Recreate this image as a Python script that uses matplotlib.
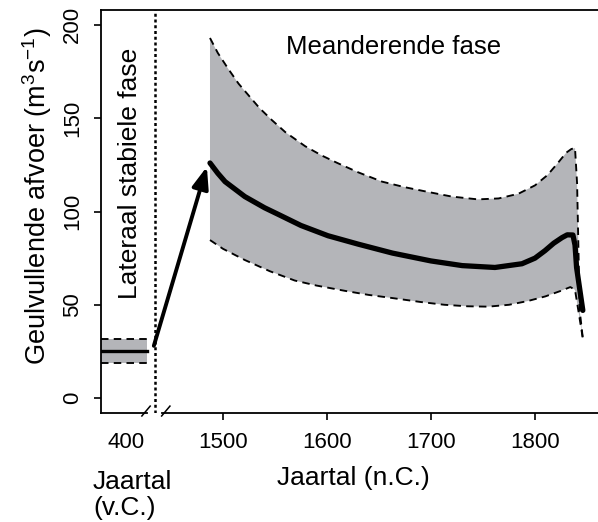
import matplotlib
matplotlib.use('Agg')
import matplotlib.pyplot as plt

plt.rcParams['font.family'] = ['Liberation Sans', 'DejaVu Sans']
plt.rcParams['mathtext.fontset'] = 'custom'
plt.rcParams['mathtext.rm'] = 'Liberation Sans'

# Lateraal stabiele fase (v.C.), getekend links van de asbreuk
bc_pos = [1383, 1427]
bc_mean = 25.4
bc_upper = 31.6
bc_lower = 18.9

# Meanderende fase (n.C.)
up_years = [1487.5, 1495, 1505, 1515, 1525, 1535, 1547, 1560, 1579, 1595, 1610, 1630, 1653,
            1675, 1697, 1720, 1745, 1765, 1784, 1800, 1812, 1822, 1830, 1835, 1838.5,
            1840.5, 1843, 1846]
up_vals = [193, 185, 176.5, 168.5, 162, 155.5, 149, 142.5, 135, 130, 126, 121, 116,
           113, 110.5, 108, 106.5, 107, 109.5, 114, 119.5, 126, 131.5, 133.5, 134,
           115, 47, 32]
low_years = [1487.5, 1500, 1521, 1545, 1569, 1590, 1617, 1640, 1663, 1690, 1713, 1735,
             1755, 1775, 1793, 1810, 1825, 1834, 1838.5, 1846]
low_vals = [84.7, 80, 74, 68, 63, 60.3, 57.5, 55.3, 53.6, 51.5, 50, 49.2,
            49, 50, 52, 54.5, 57.5, 59.5, 58, 32]
mean_years = [1487.5, 1495, 1502, 1521, 1540, 1553, 1575, 1601, 1630, 1663, 1700, 1730,
              1761.5, 1787.5, 1800, 1809.6, 1818, 1826, 1831, 1836.5, 1838.5, 1840, 1846]
mean_vals = [126, 120.5, 116, 108, 102, 98.5, 92.5, 87, 82.5, 77.7, 73.5, 71,
             70, 72, 75, 79, 83, 86, 87.5, 87.4, 82, 70, 47]

arrow_from = (1433.5, 28)
arrow_to = (1484.5, 124)
break_year = 1434.6

y_ticks = [0, 50, 100, 150, 200]
x_ticks = [1500, 1600, 1700, 1800]
bc_tick = 1406.7

band = '#b4b5b9'
dash = (0, (4, 2.8))

fig = plt.figure(figsize=(5.98, 5.22), dpi=100)
ax = fig.add_axes([101 / 598, 109 / 522, 497 / 598, 403 / 522])
ax.set_xlim(1382.7, 1860.6)
ax.set_ylim(-8, 208)

# band links
ax.fill_between(bc_pos, bc_lower, bc_upper, color=band, lw=0)
ax.plot(bc_pos, [bc_upper] * 2, color='black', ls=dash, lw=1.35)
ax.plot(bc_pos, [bc_lower] * 2, color='black', ls=dash, lw=1.35)
ax.plot(bc_pos, [bc_mean] * 2, color='black', lw=2.4)

# band meanderende fase
poly_x = up_years + low_years[::-1]
poly_y = up_vals + low_vals[::-1]
ax.fill(poly_x, poly_y, color=band, lw=0)
ax.plot(up_years, up_vals, color='black', ls=dash, lw=1.35)
ax.plot(low_years, low_vals, color='black', ls=dash, lw=1.35)
ax.plot(mean_years, mean_vals, color='black', lw=3.8, solid_capstyle='round',
        solid_joinstyle='round')

# overgang
ax.axvline(break_year, color='black', ls=(0, (1.2, 1.1)), lw=1.8)
ax.annotate('', xy=arrow_to, xytext=arrow_from,
            arrowprops=dict(arrowstyle='-|>,head_length=1.0,head_width=0.38',
                            mutation_scale=13, lw=2.8, color='black',
                            shrinkA=0, shrinkB=0))

ax.text(1664, 188, 'Meanderende fase', fontsize=18.5, ha='center', va='center')
ax.text(1411, 187.5, 'Lateraal stabiele fase', fontsize=19, rotation=90,
        ha='center', va='top')

# assen
ax.spines['right'].set_visible(False)
ax.spines['bottom'].set_visible(False)
for s in ['left', 'top']:
    ax.spines[s].set_linewidth(1.3)
xt = ax.get_xaxis_transform()
ax.plot([1382.7, 1426.5], [0, 0], transform=xt, color='black', lw=1.3, clip_on=False)
ax.plot([1441, 1860.6], [0, 0], transform=xt, color='black', lw=1.3, clip_on=False)
ax.plot([1422, 1430], [-9.6, -4.3], color='black', lw=1.1, clip_on=False)
ax.plot([1441, 1449], [-9.6, -4.3], color='black', lw=1.1, clip_on=False)

ax.set_yticks(y_ticks)
ax.set_yticklabels([str(v) for v in y_ticks], rotation=90, va='center')
ax.set_xticks([bc_tick] + x_ticks)
ax.set_xticklabels(['400'] + [str(v) for v in x_ticks])
ax.xaxis.get_major_ticks()[0].tick1line.set_visible(False)
ax.tick_params(axis='both', labelsize=16, length=5, width=1.2, direction='out')
ax.tick_params(axis='y', pad=8)
ax.tick_params(axis='x', pad=9)

fig.text(37 / 598, 1 - 196 / 522, 'Geulvullende afvoer (m$^3$s$^{-1}$)', fontsize=19.5,
         rotation=90, ha='center', va='center')
fig.text(353 / 598, 1 - 478 / 522, 'Jaartal (n.C.)', fontsize=19, ha='center', va='center')
fig.text(93 / 598, 1 - 495 / 522, 'Jaartal\n(v.C.)', fontsize=19, ha='left', va='center',
         linespacing=1.12)

fig.savefig('out.png', dpi=100)
